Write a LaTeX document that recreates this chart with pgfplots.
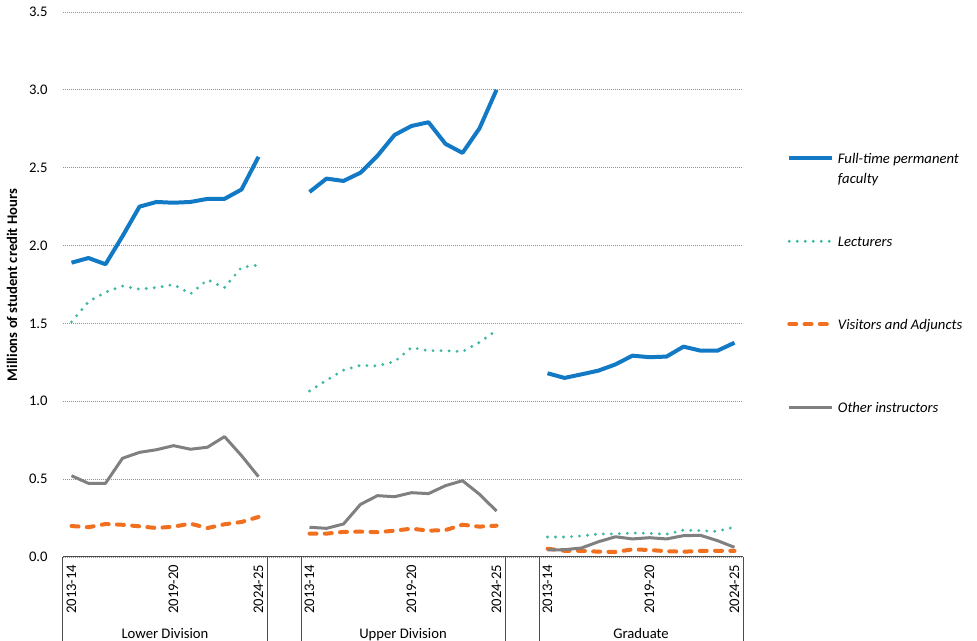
\documentclass[border=0pt]{standalone}
\usepackage{pgfplots}
\usepackage{pgfplotstable}
\pgfplotsset{compat=1.18}
\usepackage{fontspec}
\setmainfont{Carlito}
\definecolor{cblue}{RGB}{18,122,196}
\definecolor{cteal}{RGB}{62,184,163}
\definecolor{corange}{RGB}{240,112,32}
\definecolor{cgray}{RGB}{128,128,128}
\pgfplotstableread{
x ft lec vis oth
0 1.890 1.510 0.199 0.522
1 1.920 1.640 0.191 0.473
2 1.880 1.700 0.212 0.473
3 2.060 1.740 0.207 0.634
4 2.250 1.720 0.197 0.672
5 2.280 1.730 0.186 0.689
6 2.275 1.750 0.195 0.715
7 2.280 1.690 0.214 0.692
8 2.300 1.780 0.186 0.705
9 2.300 1.730 0.210 0.773
10 2.360 1.860 0.225 0.651
11 2.570 1.875 0.257 0.516
12 nan nan nan nan
14 2.344 1.066 0.150 0.191
15 2.430 1.135 0.150 0.184
16 2.415 1.200 0.161 0.212
17 2.468 1.231 0.163 0.338
18 2.577 1.227 0.159 0.394
19 2.710 1.255 0.169 0.387
20 2.768 1.345 0.182 0.413
21 2.792 1.325 0.169 0.407
22 2.653 1.325 0.173 0.458
23 2.595 1.319 0.207 0.490
24 2.753 1.379 0.195 0.403
25 3.000 1.455 0.201 0.295
26 nan nan nan nan
28 1.180 0.128 0.053 0.045
29 1.150 0.128 0.040 0.047
30 1.173 0.135 0.040 0.058
31 1.197 0.148 0.034 0.098
32 1.237 0.148 0.032 0.130
33 1.293 0.154 0.049 0.116
34 1.283 0.152 0.045 0.124
35 1.287 0.146 0.037 0.116
36 1.351 0.173 0.034 0.137
37 1.325 0.169 0.039 0.139
38 1.325 0.165 0.040 0.105
39 1.376 0.193 0.039 0.062
}\data
\begin{document}
\begin{tikzpicture}
\useasboundingbox (-47.25pt,-63pt) rectangle (685.5pt,417.75pt);
\begin{axis}[
  at={(0,0)}, anchor=south west,
  scale only axis, width=510pt, height=408.75pt,
  xmin=-0.5, xmax=39.5, ymin=0, ymax=3.5,
  axis line style={draw=none},
  major tick length=0pt,
  unbounded coords=jump,
  clip=false,
  ytick={0,0.5,1,1.5,2,2.5,3,3.5},
  ymajorgrids,
  grid style={gray!85, line width=0.6pt, dash pattern=on 0.6pt off 0.9pt},
  /pgf/number format/assume math mode=true,
  yticklabel={\pgfmathprintnumber[fixed,fixed zerofill,precision=1]{\tick}},
  yticklabel style={font=\fontsize{11pt}{13pt}\selectfont, anchor=east, xshift=-8pt},
  xtick={0,6,11,14,20,25,28,34,39},
  xticklabels={2013-14,2019-20,2024-25,2013-14,2019-20,2024-25,2013-14,2019-20,2024-25},
  xticklabel style={font=\fontsize{11pt}{13pt}\selectfont, rotate=90, anchor=east, xshift=-2.25pt},
  legend style={draw=none, fill=none, inner sep=0pt, at={(1.0647,0.7474)}, anchor=north west,
    font=\fontsize{11pt}{15pt}\selectfont\itshape,
    nodes={inner sep=0pt, text height=10pt, text depth=52.25pt},
    row sep=0pt, /tikz/every odd column/.append style={column sep=3pt}},
  legend cell align=left,
  legend image code/.code={\draw[#1] (0pt,24.875pt) -- (32pt,24.875pt);},
]
\addplot[cblue, line width=3pt, line join=round] table[x=x,y=ft]{\data};
\addlegendentry{\parbox[t]{104pt}{\raggedright Full-time permanent faculty}}
\addplot[cteal, line width=2.4pt, line cap=round, dash pattern=on 0pt off 6pt] table[x=x,y=lec]{\data};
\addlegendentry{Lecturers}
\addplot[corange, line width=3pt, line cap=round, dash pattern=on 5.25pt off 6.2pt] table[x=x,y=vis]{\data};
\addlegendentry{Visitors and Adjuncts}
\addplot[cgray, line width=2.25pt, line join=round] table[x=x,y=oth]{\data};
\addlegendentry{Other instructors}
\draw[black!70, line width=0.75pt] (axis cs:-0.5,0) -- (axis cs:39.5,0);
\draw[black!70, line width=0.75pt] (axis cs:-0.5,0) -- ++(0pt,-63pt);
\draw[black!70, line width=0.75pt] (axis cs:11.5,0) -- ++(0pt,-63pt);
\draw[black!70, line width=0.75pt] (axis cs:13.5,0) -- ++(0pt,-63pt);
\draw[black!70, line width=0.75pt] (axis cs:25.5,0) -- ++(0pt,-63pt);
\draw[black!70, line width=0.75pt] (axis cs:27.5,0) -- ++(0pt,-63pt);
\draw[black!70, line width=0.75pt] (axis cs:39.5,0) -- ++(0pt,-63pt);
\node[anchor=base, yshift=-61.5pt, font=\fontsize{11pt}{13pt}\selectfont] at (axis cs:5.5,0) {Lower Division};
\node[anchor=base, yshift=-61.5pt, font=\fontsize{11pt}{13pt}\selectfont] at (axis cs:19.5,0) {Upper Division};
\node[anchor=base, yshift=-61.5pt, font=\fontsize{11pt}{13pt}\selectfont] at (axis cs:33.5,0) {Graduate};
\end{axis}
\node[rotate=90, font=\fontsize{11pt}{13pt}\selectfont\bfseries] at (-38.25pt,204pt) {Millions of student credit Hours};
\end{tikzpicture}
\end{document}
